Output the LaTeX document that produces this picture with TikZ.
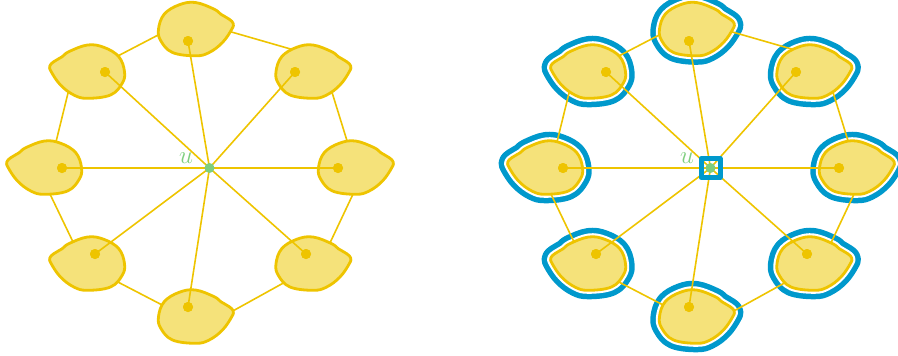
\documentclass[tikz,border=0pt]{standalone}
\begin{document}
\definecolor{ystroke}{RGB}{238,196,0}
\definecolor{yfill}{RGB}{245,226,122}
\definecolor{gdot}{RGB}{126,206,126}
\definecolor{ringblue}{RGB}{0,153,204}
\def\leafpath{plot[smooth cycle, tension=0.65] coordinates {(0,-26.5) (18.7,-19.8) (25.3,-14.8) (33.7,-9.8) (37.7,-5.5) (36.3,0.2) (27,13.5) (13.7,23.5) (0.3,26.8) (-23,23.5) (-34.7,11.8) (-37,0.2) (-31.3,-14.8) (-16.3,-24.2)}}
\begin{tikzpicture}[x=1pt,y=-1pt, line join=round, line cap=round,
  edge/.style={draw=ystroke, line width=1.6pt},
  leaf/.style={fill=yfill, draw=ystroke, line width=2.8pt},
  ringout/.style={draw=ringblue, line width=18pt},
  ringin/.style={draw=white, line width=7pt},
  vdot/.style={circle, fill=ystroke, inner sep=0pt, minimum size=10pt},
  cdot/.style={circle, fill=gdot, inner sep=0pt, minimum size=10pt},
  ulabel/.style={text=gdot, font=\fontsize{27}{27}\selectfont},
  hubbox/.style={draw=ringblue, line width=5pt, minimum size=19pt, inner sep=0pt}
]
\useasboundingbox (0,0) rectangle (898,356);
% rings of the right graph
\foreach \cx/\cy/\s in {195.5/29/1, 313/71.5/1, 355.5/167.5/1, 313/263.5/1, 195.5/316.5/1, 87.5/263.5/-1, 44.5/167.5/-1, 87.5/71.5/-1}{
  \begin{scope}[shift={(\cx+501,\cy)}, xscale=\s]
    \path[ringout] \leafpath;
    \path[ringin] \leafpath;
  \end{scope}
}
\foreach \ox/\g in {0/L,501/R}{
  % cycle edges (behind the leaves)
  \foreach \i/\ax/\ay/\bx/\by in {1/228/31/294/50, 2/114/58/162/33, 3/69/89/55/146, 4/49/192/74/244, 5/114/280/166/307, 6/231/312/287/281, 7/329/245/354/192, 8/331/89/348/144}{
    \coordinate (ea\i\g) at (\ax+\ox,\ay);
    \coordinate (eb\i\g) at (\bx+\ox,\by);
    \draw[edge] (ea\i\g) -- (eb\i\g);
  }
  % leaves
  \foreach \cx/\cy/\s in {195.5/29/1, 313/71.5/1, 355.5/167.5/1, 313/263.5/1, 195.5/316.5/1, 87.5/263.5/-1, 44.5/167.5/-1, 87.5/71.5/-1}{
    \begin{scope}[shift={(\cx+\ox,\cy)}, xscale=\s]
      \path[leaf] \leafpath;
    \end{scope}
  }
  % hub and spokes
  \coordinate (hub\g) at (209.5+\ox,168);
  \foreach \i/\x/\y in {1/188/41, 2/295/72, 3/338/168, 4/306/254, 5/188/307, 6/95/254, 7/62/168, 8/105/72}{
    \node[vdot] (d\i\g) at (\x+\ox,\y) {};
    \draw[edge] (hub\g) -- (d\i\g.center);
    \node[vdot] at (d\i\g) {};
  }
  \node[ulabel] (u\g) at (186+\ox,158) {$u$};
}
\node[hubbox] (boxR) at (hubR) {};
\node[cdot] (cL) at (hubL) {};
\node[cdot] (cR) at (hubR) {};
\end{tikzpicture}
\end{document}
